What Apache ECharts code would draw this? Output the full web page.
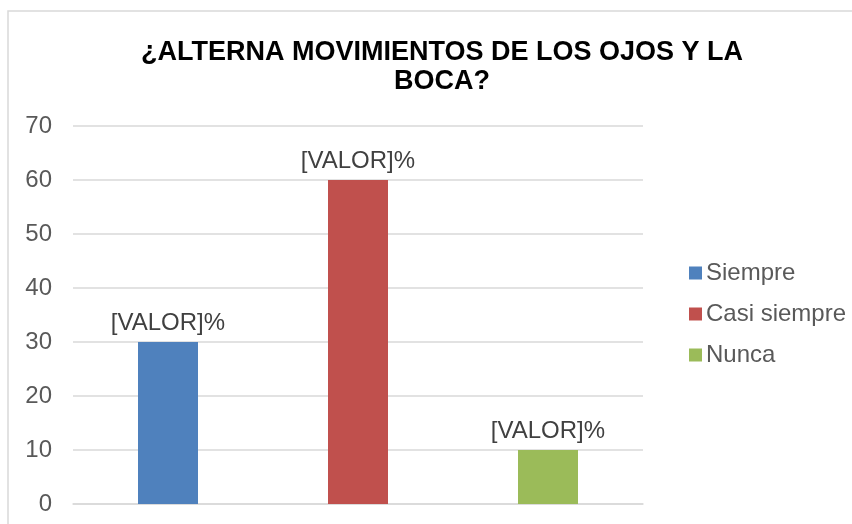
<!DOCTYPE html>
<html>
<head>
<meta charset="utf-8">
<script src="https://cdn.jsdelivr.net/npm/echarts@6/dist/echarts.min.js"></script>
<style>
  html, body { margin: 0; padding: 0; background: #fff; }
  #chart { width: 852px; height: 524px; }
</style>
</head>
<body>
<div id="chart"></div>
<script>
// datos
var categorias = ["Siempre", "Casi siempre", "Nunca"];
var valores = [30, 60, 10];
var colores = ["#4F81BD", "#C0504D", "#9BBB59"];
var titulo = "¿ALTERNA MOVIMIENTOS DE LOS OJOS Y LA\nBOCA?";

var myChart = echarts.init(document.getElementById("chart"));

// una serie por categoria, apiladas para que cada barra quede centrada
var series = categorias.map(function (nombre, i) {
  return {
    name: nombre,
    type: "bar",
    stack: "total",
    barWidth: 60,
    data: valores.map(function (v, j) {
      return j === i ? v : "-";
    }),
    itemStyle: { color: colores[i] },
    label: {
      show: true,
      position: "top",
      distance: 7,
      formatter: "[VALOR]%",
      color: "#404040",
      fontSize: 24,
      fontFamily: "Liberation Sans",
    },
  };
});

myChart.setOption({
  animation: false,
  //borde del area del grafico
  graphic: [
    {
      type: "rect",
      shape: { x: 8, y: 11, width: 900, height: 600 },
      style: { fill: "none", stroke: "#d9d9d9", lineWidth: 1.5 },
      silent: true,
    },
  ],
  title: {
    text: titulo,
    left: 437,
    top: 33,
    textAlign: "center",
    textStyle: {
      color: "#000",
      fontWeight: "bold",
      fontFamily: "Liberation Sans",
      fontSize: 27,
      lineHeight: 29,
    },
  },
  legend: {
    orient: "vertical",
    left: 684,
    top: 256,
    itemWidth: 13,
    itemHeight: 13,
    itemGap: 17,
    icon: "rect",
    textStyle: {
      color: "#595959",
      fontSize: 24,
      fontFamily: "Liberation Sans",
      padding: [0, 0, 0, -1],
    },
    data: categorias,
  },
  grid: {
    left: 73,
    right: 209,
    top: 126,
    bottom: 20,
  },
  xAxis: {
    type: "category",
    data: categorias,
    axisLabel: { show: false },
    axisTick: { show: false },
    axisLine: { lineStyle: { color: "#d9d9d9", width: 1.5 } },
  },
  yAxis: {
    type: "value",
    min: 0,
    max: 70,
    interval: 10,
    axisLine: { show: false },
    axisTick: { show: false },
    axisLabel: {
      color: "#595959",
      fontSize: 24,
      fontFamily: "Liberation Sans",
      margin: 21,
    },
    splitLine: { lineStyle: { color: "#d9d9d9", width: 1.5 } },
  },
  series: series,
});
</script>
</body>
</html>
